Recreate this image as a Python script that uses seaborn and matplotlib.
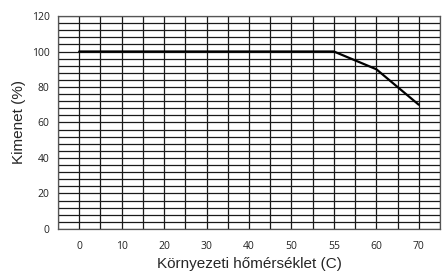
import numpy as np
import pandas as pd
import matplotlib
matplotlib.use("Agg")
import matplotlib.pyplot as plt
import seaborn as sns

# Data
temps = ["0", "10", "20", "30", "40", "50", "55", "60", "70"]
output_pct = [100, 100, 100, 100, 100, 100, 100, 90, 70]

sns.set_style("white")
plt.rcParams["font.family"] = ["Open Sans", "DejaVu Sans"]

df = pd.DataFrame({"temp": temps, "out": output_pct})

fig = plt.figure(figsize=(4.44, 2.75), dpi=100)
ax = fig.add_axes([0.1306, 0.1673, 0.8604, 0.7745])

sns.lineplot(data=df, x="temp", y="out", color="black", linewidth=1.6, ax=ax, zorder=5)

n = len(temps)
ax.set_xlim(-0.5, n - 0.5)
ax.set_ylim(0, 120)

# x: labels at category centres, tick marks at boundaries
ax.set_xticks(range(n))
ax.set_xticklabels(temps)
ax.set_xticks(np.arange(-0.5, n, 1.0), minor=True)
ax.tick_params(axis="x", which="major", length=0, labelsize=7.5, pad=9, labelcolor="#222222")
ax.tick_params(axis="x", which="minor", length=3, width=0.8, color="#333333")

# y: labels every 20, grid every 4
ax.set_yticks(range(0, 121, 20))
ax.set_yticks(range(0, 121, 4), minor=True)
ax.tick_params(axis="y", which="major", length=3, width=0.8, labelsize=7.5, pad=3,
               color="#333333", labelcolor="#222222")
ax.tick_params(axis="y", which="minor", length=0)

# gridlines
for x in np.arange(-0.5, n, 0.5):
    ax.axvline(x, color="#1a1a1a", linewidth=0.9, zorder=1)
for y in range(0, 121, 4):
    ax.axhline(y, color="#1a1a1a", linewidth=0.9, zorder=1)

for s in ax.spines.values():
    s.set_color("#555555")
    s.set_linewidth(0.9)

ax.set_xlabel("Környezeti hőmérséklet (C)", fontsize=11, family=["Liberation Sans", "DejaVu Sans"],
              labelpad=3)
ax.set_ylabel("Kimenet (%)", fontsize=11, family=["Liberation Sans", "DejaVu Sans"], labelpad=4)

fig.savefig("out.png", dpi=100)
